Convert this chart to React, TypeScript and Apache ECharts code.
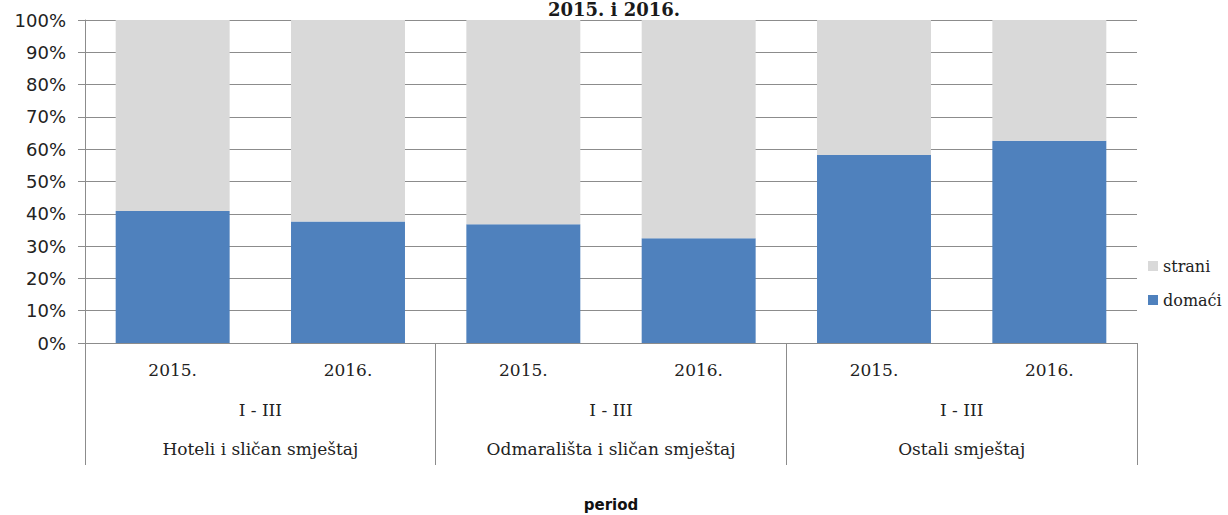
import React, { useEffect, useRef } from "react";
import * as echarts from "echarts";

const years = ["2015.", "2016.", "2015.", "2016.", "2015.", "2016."];
const groups = ["Hoteli i sličan smještaj", "Odmarališta i sličan smještaj", "Ostali smještaj"];
const periodLabel = "I - III";
const domaci = [40.9, 37.6, 36.8, 32.4, 58.2, 62.6];
const strani = [59.1, 62.4, 63.2, 67.6, 41.8, 37.4];
const titleText = "2015. i 2016.";
const axisTitle = "period";

const GRID = "#8c8c8c";
const SERIF = "DejaVu Serif";
const SANS = "DejaVu Sans";

export default function App() {
  const ref = useRef<HTMLDivElement>(null);
  useEffect(() => {
    if (!ref.current) return;
    const chart = echarts.init(ref.current, undefined, { renderer: "svg" });
    chart.setOption({
      animation: false,
      backgroundColor: "#ffffff",
      grid: {
        left: 85,
        right: 91,
        top: 20,
        bottom: 172,
        containLabel: false,
        outerBoundsMode: "none",
      },
      title: {
        text: titleText,
        left: "center",
        top: 0,
        padding: [0, 0, 0, 4],
        textStyle: { fontFamily: SERIF, fontWeight: "bold", fontSize: 18, color: "#1a1a1a" },
      },
      legend: {
        orient: "vertical",
        left: 1143,
        top: 253,
        itemWidth: 10,
        itemHeight: 10,
        itemGap: 18,
        icon: "rect",
        data: ["strani", "domaći"],
        textStyle: { fontFamily: SERIF, fontSize: 16, color: "#222" },
      },
      xAxis: [
        {
          type: "category",
          data: years,
          position: "bottom",
          axisLine: { show: true, lineStyle: { color: GRID, width: 1 } },
          axisTick: { show: false },
          axisLabel: {
            margin: 18,
            fontFamily: SERIF,
            fontSize: 17,
            color: "#222",
            interval: 0,
          },
        },
        {
          type: "category",
          data: groups,
          position: "bottom",
          axisLine: { show: false },
          axisTick: { show: true, length: 122, lineStyle: { color: GRID, width: 1 } },
          axisLabel: {
            margin: 47,
            interval: 0,
            fontFamily: SERIF,
            fontSize: 17,
            lineHeight: 39,
            color: "#222",
            formatter: (v: string) => `${periodLabel}\n${v}`,
          },
          name: axisTitle,
          nameLocation: "middle",
          nameGap: 154,
          nameTextStyle: { fontFamily: SANS, fontWeight: "bold", fontSize: 15, color: "#111" },
        },
      ],
      yAxis: {
        type: "value",
        min: 0,
        max: 100,
        interval: 10,
        axisLine: { show: true, lineStyle: { color: GRID, width: 1 } },
        axisTick: { show: true, length: 7, lineStyle: { color: GRID } },
        axisLabel: {
          formatter: "{value}%",
          margin: 19,
          fontFamily: SANS,
          fontSize: 18,
          color: "#222",
        },
        splitLine: { show: true, lineStyle: { color: GRID, width: 1 } },
      },
      series: [
        {
          name: "domaći",
          type: "bar",
          stack: "total",
          data: domaci,
          barWidth: "65%",
          itemStyle: { color: "#4f81bd" },
        },
        {
          name: "strani",
          type: "bar",
          stack: "total",
          data: strani,
          barWidth: "65%",
          itemStyle: { color: "#d9d9d9" },
        },
      ],
    });
    return () => chart.dispose();
  }, []);
  return (
    <div
      ref={ref}
      style={{ position: "fixed", left: 0, top: 0, width: 1228, height: 515 }}
    />
  );
}
